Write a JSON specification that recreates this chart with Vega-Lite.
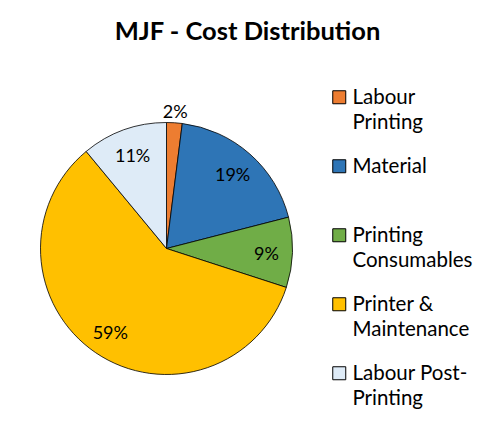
{
  "$schema": "https://vega.github.io/schema/vega-lite/v6.json",
  "autosize": {"type": "none"},
  "padding": {"left": 0, "top": 55, "right": 162, "bottom": 5},
  "width": 333,
  "height": 387,
  "background": "white",
  "title": {
    "text": "MJF - Cost Distribution",
    "font": "Lato",
    "fontSize": 25.5,
    "fontWeight": "bold",
    "color": "#000000",
    "anchor": "middle",
    "dx": 81,
    "offset": 10,
    "limit": 480
  },
  "data": {
    "values": [
      {"category": "Labour Printing", "share": 0.02, "order": 1},
      {"category": "Material", "share": 0.19, "order": 2},
      {"category": "Printing Consumables", "share": 0.09, "order": 3},
      {"category": "Printer & Maintenance", "share": 0.59, "order": 4},
      {"category": "Labour Post-Printing", "share": 0.11, "order": 5}
    ]
  },
  "encoding": {
    "theta": {"field": "share", "type": "quantitative", "stack": true},
    "order": {"field": "order", "type": "quantitative"}
  },
  "layer": [
    {
      "mark": {"type": "arc", "outerRadius": 126, "stroke": "#000000", "strokeWidth": 0.8},
      "encoding": {
        "color": {
          "field": "category",
          "type": "nominal",
          "sort": ["Labour Printing", "Material", "Printing Consumables", "Printer & Maintenance", "Labour Post-Printing"],
          "scale": {
            "domain": ["Labour Printing", "Material", "Printing Consumables", "Printer & Maintenance", "Labour Post-Printing"],
            "range": ["#ED7D31", "#2E75B6", "#70AD47", "#FFC000", "#DEEBF7"]
          },
          "legend": {
            "title": null,
            "orient": "none",
            "legendX": 329,
            "legendY": 32,
            "padding": 0,
            "symbolType": "square",
            "symbolSize": 169,
            "symbolStrokeColor": "#000000",
            "symbolStrokeWidth": 1,
            "symbolOpacity": 1,
            "labelFont": "Lato",
            "labelFontSize": 20.5,
            "labelColor": "#000000",
            "labelOffset": 3,
            "labelBaseline": "alphabetic",
            "labelLimit": 200,
            "rowPadding": 22,
            "labelExpr": "datum.label == 'Labour Printing' ? ['Labour', 'Printing'] : datum.label == 'Material' ? ['Material', ''] : datum.label == 'Printing Consumables' ? ['Printing', 'Consumables'] : datum.label == 'Printer & Maintenance' ? ['Printer &', 'Maintenance'] : ['Labour Post-', 'Printing']",
            "encode": {
              "labels": {"update": {"lineHeight": {"value": 25}, "dy": {"value": 7}}}
            }
          }
        }
      }
    },
    {
      "mark": {
        "type": "text",
        "radius": {"expr": "datum.share < 0.05 ? 139 : 100"},
        "font": "Lato",
        "fontSize": 18,
        "dy": 3,
        "color": "#000000"
      },
      "encoding": {
        "text": {"field": "share", "type": "quantitative", "format": ".0%"}
      }
    }
  ]
}
